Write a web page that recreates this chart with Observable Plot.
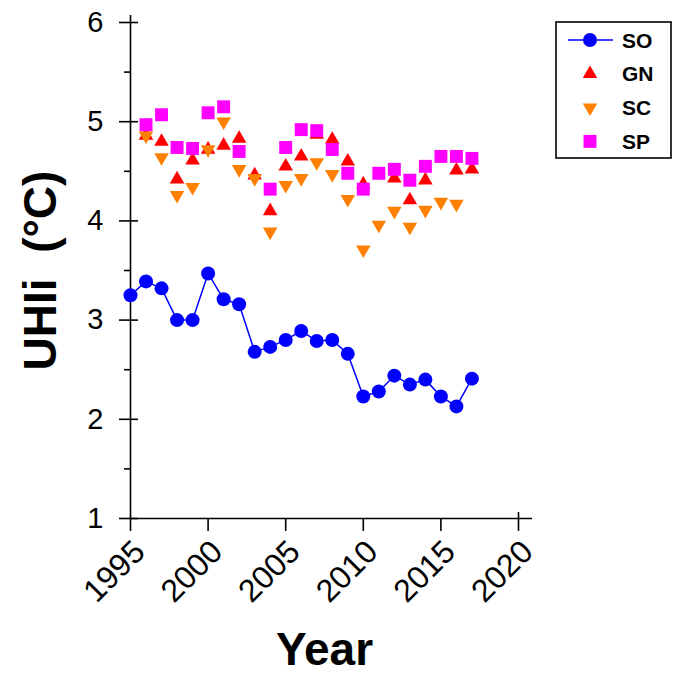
<!DOCTYPE html>
<html><head><meta charset="utf-8">
<script src="https://cdn.jsdelivr.net/npm/d3@7"></script>
<script src="https://cdn.jsdelivr.net/npm/@observablehq/plot@0.6"></script>
<style>body{margin:0;background:#fff} #chart{width:681px;height:675px}</style>
</head><body><div id="chart"></div>
<script>
const years = [1995,1996,1997,1998,1999,2000,2001,2002,2003,2004,2005,2006,2007,2008,2009,2010,2011,2012,2013,2014,2015,2016,2017];
const seriesNames = ["SO","GN","SC","SP"];
const SO = [3.25,3.39,3.32,3.00,3.00,3.47,3.21,3.16,2.68,2.73,2.80,2.89,2.79,2.80,2.66,2.23,2.28,2.44,2.35,2.40,2.23,2.13,2.41];
const GN = [null,4.86,4.80,4.42,4.61,4.72,4.76,4.83,4.46,4.10,4.55,4.65,4.87,4.82,4.60,4.37,null,4.43,4.21,4.41,null,4.51,4.52];
const SC = [null,4.86,4.64,4.26,4.34,4.72,5.00,4.52,4.43,3.89,4.36,4.43,4.59,4.47,4.22,3.71,3.96,4.10,3.94,4.11,4.19,4.17,null];
const SP = [null,4.97,5.07,4.74,4.73,5.09,5.15,4.70,null,4.32,4.74,4.92,4.91,4.72,4.48,4.32,4.48,4.52,4.41,4.55,4.65,4.65,4.63];
const colors = ["#0000FF","#FF0000","#FF8000","#FF00FF"];
const yTicks = [1,2,3,4,5,6];
const yMinorTicks = [1.5,2.5,3.5,4.5,5.5];
const xTicks = [1995,2000,2005,2010,2015,2020];
const yLabel = "UHIi  (°C)";
const xLabel = "Year";

const triangleDown = {
  draw(ctx, size) {
    const y = -Math.sqrt(size / (Math.sqrt(3) * 3));
    ctx.moveTo(0, -y * 2);
    ctx.lineTo(-Math.sqrt(3) * y, y);
    ctx.lineTo(Math.sqrt(3) * y, y);
    ctx.closePath();
  }
};
const symbols = ["circle","triangle",triangleDown,"square"];
const radii = [7, 5.4, 5.4, 7.3];

const rows = (vals, name) => years.map((year, i) => ({year, value: vals[i], series: name})).filter(d => d.value != null);
const data = [SO, GN, SC, SP].map((v, i) => rows(v, seriesNames[i]));
const blank = () => "";
const intFmt = d => String(d);
const font = "'Liberation Sans', Arial, sans-serif";

const plot = Plot.plot({
  width: 681, height: 675,
  marginLeft: 130, marginRight: 163, marginTop: 22, marginBottom: 157,
  style: {fontFamily: font, fontSize: "29px", color: "#000", background: "#fff", overflow: "visible"},
  x: {domain: [1995, 2020]},
  y: {domain: [1, 6]},
  marks: [
    Plot.ruleX([1995], {stroke: "#000", strokeWidth: 1.6, insetTop: -7}),
    Plot.ruleY([1], {stroke: "#000", strokeWidth: 1.6, insetRight: -14}),
    Plot.axisY(yTicks, {anchor: "left", tickSize: 11, tickPadding: 16, fontSize: 29, label: null, strokeWidth: 1.6, tickFormat: intFmt}),
    Plot.axisY(yTicks, {anchor: "left", tickSize: 8, dx: 8, tickFormat: blank, label: null, strokeWidth: 1.6}),
    Plot.axisY(yMinorTicks, {anchor: "left", tickSize: 6, tickFormat: blank, label: null, strokeWidth: 1.6}),
    Plot.axisX(xTicks, {anchor: "bottom", tickSize: 13, tickFormat: blank, label: null, strokeWidth: 1.6}),
    Plot.axisX(xTicks, {anchor: "bottom", tickSize: 0, tickPadding: 28, dx: 9, tickRotate: -45, fontSize: 32, label: null, tickFormat: intFmt}),
    Plot.axisX([2020], {anchor: "bottom", tickSize: 6, dy: -6, tickFormat: blank, label: null, strokeWidth: 1.6}),
    Plot.text([yLabel], {frameAnchor: "left", textAnchor: "middle", dx: -89, rotate: -90, fontSize: 46, fontWeight: "bold", text: d => d}),
    Plot.text([xLabel], {frameAnchor: "bottom", textAnchor: "middle", dy: 146, fontSize: 46, fontWeight: "bold", text: d => d}),
    Plot.line(data[0], {x: "year", y: "value", stroke: colors[0], strokeWidth: 1.5}),
    ...data.map((d, i) => Plot.dot(d, {x: "year", y: "value", r: radii[i], symbol: symbols[i], fill: colors[i], stroke: "none"}))
  ]
});

// legend
const svg = d3.select(plot);
const lg = svg.append("g").attr("font-family", font).attr("text-anchor", "start");
lg.append("rect").attr("x", 556).attr("y", 22).attr("width", 115).attr("height", 136)
  .attr("fill", "#fff").attr("stroke", "#000").attr("stroke-width", 1.6);
const d3syms = [d3.symbolCircle, d3.symbolTriangle, triangleDown, d3.symbolSquare];
seriesNames.forEach((name, i) => {
  const y = 40 + i * 33.8;
  const g = lg.append("g").attr("transform", `translate(0,${y})`);
  if (i === 0) g.append("line").attr("x1", 568).attr("x2", 613).attr("stroke", colors[0]).attr("stroke-width", 1.5);
  g.append("path").attr("transform", "translate(590,0)")
    .attr("d", d3.symbol(d3syms[i], Math.PI * radii[i] * radii[i])()).attr("fill", colors[i]);
  g.append("text").attr("x", 622).attr("dy", "0.36em").attr("font-size", 21).attr("font-weight", "bold").text(name);
});

document.getElementById("chart").appendChild(plot);
</script>
</body></html>
